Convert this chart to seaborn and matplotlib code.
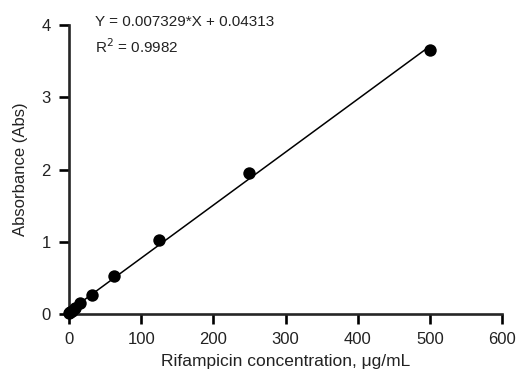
import matplotlib
matplotlib.use("Agg")
import matplotlib.pyplot as plt
import numpy as np
import pandas as pd
import seaborn as sns

sns.set_style("ticks")
plt.rcParams['font.family'] = ['Liberation Sans', 'DejaVu Sans']

concentracao = [0, 1.95, 3.9, 7.8, 15.6, 31.25, 62.5, 125, 250, 500]
absorbancia = [0.01, 0.03, 0.05, 0.09, 0.15, 0.27, 0.53, 1.03, 1.96, 3.65]
inclinacao = 0.007329
intercepto = 0.04313

df = pd.DataFrame({"x": concentracao, "y": absorbancia})
x_fit = np.array([0, 500])
df_fit = pd.DataFrame({"x": x_fit, "y": inclinacao * x_fit + intercepto})

fig = plt.figure(figsize=(5.23, 3.74), dpi=100)
ax = fig.add_axes([0.132, 0.160, 0.828, 0.773])

sns.lineplot(data=df_fit, x="x", y="y", color="black", linewidth=1.1, ax=ax)
sns.scatterplot(data=df, x="x", y="y", color="black", s=80, edgecolor="black",
                linewidth=0, ax=ax, zorder=3, clip_on=False)

ax.set_xlim(0, 600)
ax.set_ylim(0, 4)
ax.set_xticks(np.arange(0, 601, 100))
ax.set_yticks(np.arange(0, 5, 1))
sns.despine(ax=ax)
for lado in ["left", "bottom"]:
    ax.spines[lado].set_linewidth(1.9)
ax.tick_params(width=1.9, length=7, labelsize=12, color="black", pad=6,
               labelcolor="#222222")

ax.set_xlabel("Rifampicin concentration, μg/mL", fontsize=12.5, labelpad=5,
              color="#222222")
ax.set_ylabel("Absorbance (Abs)", fontsize=12, labelpad=10, color="#222222")

ax.text(0.06, 1.009, "Y = 0.007329*X + 0.04313", transform=ax.transAxes,
        fontsize=11, va="center", color="#222222")
ax.text(0.06, 0.927, "R$^2$ = 0.9982", transform=ax.transAxes,
        fontsize=11, va="center", color="#222222")

fig.savefig("out.png", dpi=100)
